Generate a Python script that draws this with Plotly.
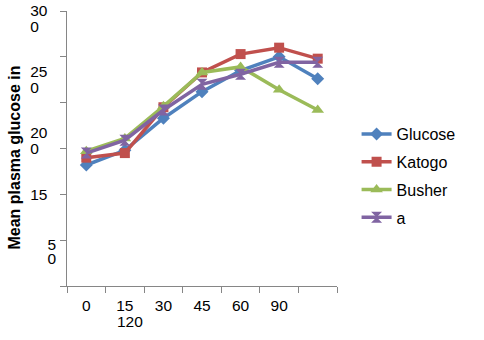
import plotly.graph_objects as go

# ---- data ----
categories = ["0", "15", "30", "45", "60", "90", "120"]
glucose = [132, 148, 183, 212, 235, 250, 226]
katogo = [140, 145, 195, 233, 253, 260, 248]
busher = [147, 161, 196, 233, 239, 214, 192]
series_a = [145, 159, 192, 220, 231, 244, 244]

series_names = ["Glucose", "Katogo", "Busher", "a"]
series_values = [glucose, katogo, busher, series_a]

# x tick labels as rendered (the "120" label wrapped under "15")
x_tick_text = ["0", "15", "30", "45", "60", "90", ""]
x_wrapped_label = "120"
x_wrapped_under = "15"

# y axis: tick marks every 50, labels rendered wrapped/shifted
y_tick_vals = [0, 50, 100, 150, 200, 250, 300]
y_label_lines = ["30", "0", "25", "0", "20", "0", "15", "5", "0"]
y_label_vals = [300, 283.5, 234, 216.5, 167.5, 150, 100, 45.5, 29.5]
y_label_pad = [2, 4, 2, 4, 2, 4, 2, 0, 0]  # right padding (nbsp count)

y_title = "Mean plasma glucose in"

colors = ["#4F81BD", "#C0504D", "#9BBB59", "#8064A2"]
symbols = ["diamond", "square", "triangle-up", "hourglass"]
msizes = [10, 10, 11, 11]

FONT = "Liberation Sans, Arial, sans-serif"
AXIS_COLOR = "#868686"

fig = go.Figure()
for i, (name, vals) in enumerate(zip(series_names, series_values)):
    fig.add_trace(go.Scatter(
        x=categories, y=vals, name=name, mode="lines+markers",
        line=dict(color=colors[i], width=3.5),
        marker=dict(symbol=symbols[i], size=msizes[i], color=colors[i]),
        legendgroup=name,
    ))

# empty helper traces so the overlay label axes get drawn
fig.add_trace(go.Scatter(x=[], y=[], xaxis="x2", yaxis="y", showlegend=False,
                         hoverinfo="skip"))
fig.add_trace(go.Scatter(x=[], y=[], xaxis="x", yaxis="y2", showlegend=False,
                         hoverinfo="skip"))

ticktext_y = [t + "\u00a0" * p for t, p in zip(y_label_lines, y_label_pad)]
wrap_idx = categories.index(x_wrapped_under)

fig.update_layout(
    width=484, height=340,
    margin=dict(l=67, r=147, t=11, b=54, autoexpand=False),
    paper_bgcolor="white", plot_bgcolor="white",
    font=dict(family=FONT, size=15.5, color="black"),
    showlegend=True,
    legend=dict(
        x=1.0725, xanchor="left", y=0.40, yanchor="middle",
        font=dict(family=FONT, size=16, color="black"),
        tracegroupgap=4, traceorder="grouped",
        bgcolor="rgba(0,0,0,0)", borderwidth=0,
    ),
    xaxis=dict(
        type="category", categoryorder="array", categoryarray=categories,
        range=[-0.5, len(categories) - 0.5],
        tickmode="array", tickvals=categories, ticktext=x_tick_text,
        tickson="boundaries", ticks="outside", ticklen=6, tickcolor=AXIS_COLOR,
        showline=True, linecolor=AXIS_COLOR, linewidth=1,
        showgrid=False, zeroline=False, ticklabelstandoff=5, automargin=False,
        tickfont=dict(family=FONT, size=15.5, color="black"),
    ),
    xaxis2=dict(
        overlaying="x", anchor="y", side="bottom",
        range=[-0.5, len(categories) - 0.5],
        tickmode="array", tickvals=[wrap_idx], ticktext=[x_wrapped_label],
        ticks="", showline=False, showgrid=False, zeroline=False,
        ticklabelstandoff=24, ticklabelshift=5, automargin=False,
        tickfont=dict(family=FONT, size=15.5, color="black"),
    ),
    yaxis=dict(
        range=[0, 300], tickmode="array", tickvals=y_tick_vals,
        showticklabels=False, ticks="outside", ticklen=6, tickcolor=AXIS_COLOR,
        showline=True, linecolor=AXIS_COLOR, linewidth=1,
        showgrid=False, zeroline=False, automargin=False,
    ),
    yaxis2=dict(
        overlaying="y", anchor="x", side="left",
        range=[0, 300], tickmode="array", tickvals=y_label_vals,
        ticktext=ticktext_y, ticks="", showline=False, showgrid=False,
        zeroline=False, ticklabelstandoff=10, automargin=False,
        tickfont=dict(family=FONT, size=15.5, color="black"),
    ),
    annotations=[dict(
        text="<b>" + y_title + "</b>", textangle=-90,
        xref="paper", x=(15 - 67) / 270, xanchor="center",
        yref="paper", y=0.467, yanchor="middle",
        showarrow=False, font=dict(family=FONT, size=16, color="black"),
    )],
)

fig.write_html("out.html", config={"displayModeBar": False},
               post_script="document.body.style.margin='0px';")
